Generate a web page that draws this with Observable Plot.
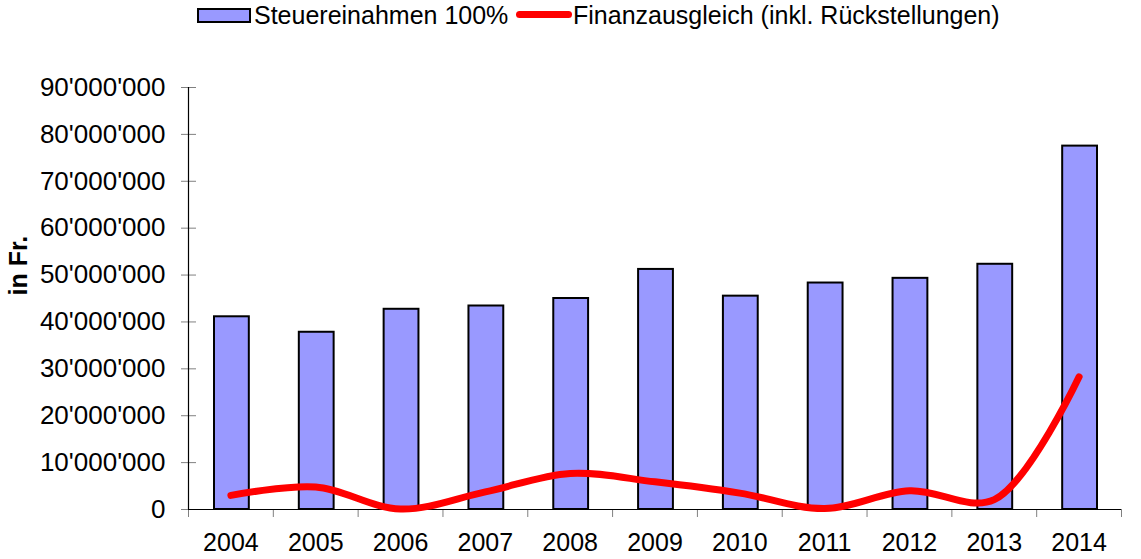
<!DOCTYPE html>
<html>
<head>
<meta charset="utf-8">
<script src="https://cdn.jsdelivr.net/npm/d3@7"></script>
<script src="https://cdn.jsdelivr.net/npm/@observablehq/plot@0.6"></script>
<style>
  html, body { margin: 0; padding: 0; background: #fff; }
  body { width: 1141px; height: 559px; overflow: hidden; font-family: "Liberation Sans", Arial, sans-serif; }
  #legend { position: relative; height: 35px; font-size: 25px; color: #000; }
  #legend span { position: absolute; white-space: nowrap; }
</style>
</head>
<body>
<div id="legend"></div>
<div id="chart"></div>
<script>
// ---- data ----
const years = [2004, 2005, 2006, 2007, 2008, 2009, 2010, 2011, 2012, 2013, 2014];
const steuereinnahmen = [41100000, 37800000, 42700000, 43400000, 45000000, 51200000, 45500000, 48300000, 49300000, 52300000, 77500000];
const finanzausgleich = [3000000, 4800000, 100000, 3750000, 7700000, 5900000, 3500000, 200000, 4000000, 2100000, 28300000];
const yTicks = [0, 10000000, 20000000, 30000000, 40000000, 50000000, 60000000, 70000000, 80000000, 90000000];
const seriesNames = ["Steuereinahmen 100%", "Finanzausgleich (inkl. Rückstellungen)"];
const yTitle = "in Fr.";

const data = years.map((year, i) => ({year, steuer: steuereinnahmen[i], finanz: finanzausgleich[i]}));
const boundaries = years.map(y => y - 0.5).concat([years[years.length - 1] + 0.5]);
const fmt = d => d3.format(",")(d).replace(/,/g, "'");

// ---- legend ----
const legend = document.getElementById("legend");
legend.innerHTML = `
  <span style="left:197px;top:8px;width:50px;height:11px;background:#9999FF;border:2px solid #000"></span>
  <span style="left:254px;top:1px">${seriesNames[0]}</span>
  <span style="left:516px;top:11px;width:56px;height:7px;background:#FF0000;border-radius:4px"></span>
  <span style="left:573px;top:1px">${seriesNames[1]}</span>
`;

// ---- chart ----
const chart = Plot.plot({
  width: 1141,
  height: 524,
  marginLeft: 188,
  marginRight: 20,
  marginTop: 52,
  marginBottom: 50,
  style: {fontFamily: "'Liberation Sans', Arial, sans-serif", background: "#fff", color: "#000"},
  x: {domain: [years[0] - 0.5, years[years.length - 1] + 0.5], label: null},
  y: {domain: [0, 90000000], label: null},
  marks: [
    Plot.rectY(data, {x1: d => d.year - 0.5, x2: d => d.year + 0.5, y: "steuer", insetLeft: 26, insetRight: 24, fill: "#9999FF", stroke: "#000", strokeWidth: 2}),
    // y axis ticks (crossing) and labels
    Plot.axisY(yTicks, {tickSize: 15, dx: 8, tickFormat: () => "", stroke: "#808080", label: null}),
    Plot.axisY(yTicks, {tickSize: 0, tickPadding: 23, tickFormat: fmt, fontSize: 26, fill: "#000", label: null}),
    // x axis ticks between categories and labels
    Plot.axisX(boundaries, {tickSize: 8, tickFormat: () => "", stroke: "#808080", label: null}),
    Plot.axisX(years, {tickSize: 0, tickPadding: 24, tickFormat: d => String(d), fontSize: 25, fill: "#000", label: null}),
    // axis lines
    Plot.ruleX([boundaries[0]], {y1: 0, y2: 90000000, stroke: "#000", strokeWidth: 1.2}),
    Plot.ruleY([0], {stroke: "#000", strokeWidth: 1.2}),
    // smoothed line
    Plot.line(data, {x: "year", y: "finanz", curve: "catmull-rom", stroke: "#FF0000", strokeWidth: 7, strokeLinecap: "round", strokeLinejoin: "round"}),
    // y title
    Plot.text([yTitle], {frameAnchor: "left", rotate: -90, dx: -170, dy: -3, fontWeight: "bold", fontSize: 25, fill: "#000", text: d => d})
  ]
});
document.getElementById("chart").appendChild(chart);
</script>
</body>
</html>
